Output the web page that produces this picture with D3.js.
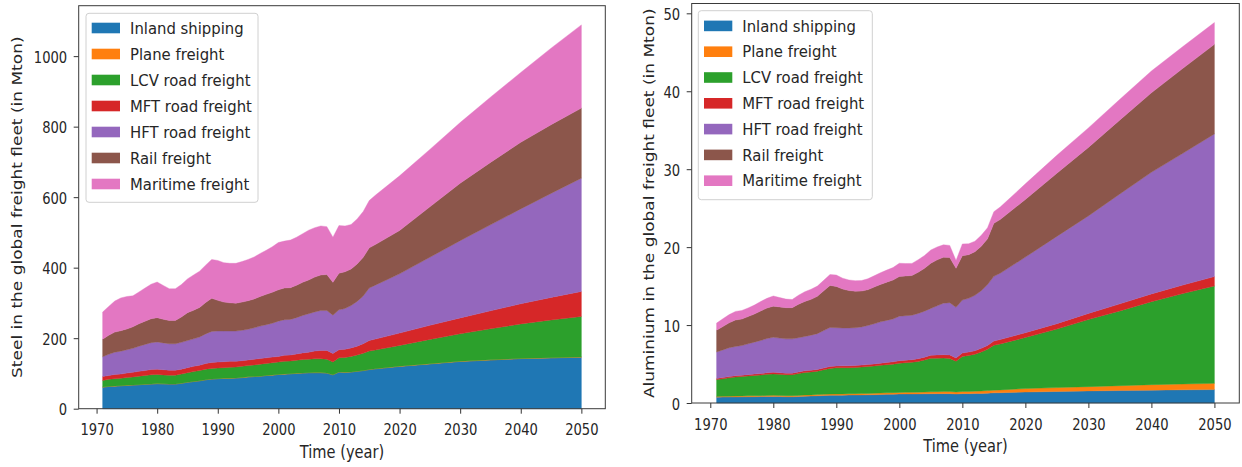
<!DOCTYPE html>
<html><head><meta charset="utf-8">
<script src="https://cdn.jsdelivr.net/npm/d3@7"></script>
<style>
body{margin:0;background:#fff}
svg{display:block}
text{font-family:"DejaVu Sans",sans-serif;fill:#262626}
</style>
</head><body>
<svg id="chart" width="1242" height="467"></svg>
<script>
// ---------- DATA ----------
const years = [1971,1972,1973,1974,1975,1976,1977,1978,1979,1980,
  1981,1982,1983,1984,1985,1986,1987,1988,1989,1990,
  1991,1992,1993,1994,1995,1996,1997,1998,1999,2000,
  2001,2002,2003,2004,2005,2006,2007,2008,2009,2010,
  2011,2012,2013,2014,2015,2016,
  2020,2025,2030,2035,2040,2045,2050];

const seriesNames = ["Inland shipping","Plane freight","LCV road freight","MFT road freight","HFT road freight","Rail freight","Maritime freight"];
const xTickLabels = [1970,1980,1990,2000,2010,2020,2030,2040,2050];
const steelTicks = [0,200,400,600,800,1000];
const aluTicks = [0,10,20,30,40,50];

// Steel (Mton)
const steelInland = [61,63,64,65,66,67,68,69,70,71,
  70.5,70,70,72,75,77,79,82,84,85,
  86,86,87,88,90,91,92,94,95,97,
  98,99,100,101,102,102,102,101,96,104,
  103,104,106,108,111,113,
  120,127,134,138,142,144,146];
const steelPlane = [0.2,0.2,0.2,0.2,0.2,0.2,0.2,0.2,0.2,0.2,
  0.2,0.2,0.2,0.2,0.2,0.2,0.2,0.2,0.3,0.3,
  0.3,0.3,0.3,0.3,0.3,0.3,0.3,0.3,0.3,0.3,
  0.3,0.3,0.3,0.3,0.3,0.4,0.4,0.4,0.4,0.4,
  0.4,0.4,0.4,0.4,0.4,0.4,
  0.45,0.5,0.5,0.55,0.55,0.6,0.6];
const steelLCV = [19,20,21,21,22,23,24,25,26,26,
  25,25,25,26,27,28,29,30,30,30,
  30,31,31,32,32,33,34,34,35,35,
  36,36,37,38,38,39,39,39,36,40,
  42,44,46,49,52,53,
  59,69,78,88,98,107,115];
const steelMFT = [11,11,12,12,13,13,14,14,15,15,
  15,14,14,14,14,15,15,16,17,17,
  17,17,16,16,16,16,16,16,16,16,
  17,17,18,19,20,22,24,25,24,23,
  23,24,25,27,30,31,
  35,40,45,51,57,64,71];
const steelHFT = [56,60,63,65,66,68,71,74,76,77,
  76,75,75,76,77,78,80,84,88,88,
  87,86,86,86,87,89,92,94,96,100,
  101,101,103,106,109,111,113,113,109,113,
  116,120,127,135,149,153,
  168,193,219,244,269,295,321];
const steelRail = [50,54,57,58,59,61,64,66,68,69,
  67,66,66,72,79,81,84,89,94,87,
  82,80,79,80,81,82,84,86,88,89,
  90,90,92,94,96,99,101,102,93,104,
  104,104,106,110,114,115,
  123,143,163,177,189,195,199];
const steelMaritime = [77,82,88,93,92,88,90,94,98,101,
  96,90,90,92,96,100,103,106,110,113,
  112,112,113,115,117,119,122,125,129,134,
  133,135,136,138,141,140,139,136,128,135,
  130,126,128,130,134,140,
  155,163,172,185,198,217,236];

// Aluminium (Mton)
const aluInland = [0.75,0.76,0.77,0.78,0.79,0.8,0.81,0.82,0.84,0.85,
  0.83,0.8,0.8,0.83,0.88,0.9,0.93,0.96,0.99,1.0,
  1.01,1.02,1.03,1.04,1.05,1.07,1.09,1.11,1.13,1.15,
  1.16,1.16,1.17,1.18,1.19,1.2,1.2,1.2,1.15,1.2,
  1.2,1.21,1.23,1.26,1.3,1.32,
  1.4,1.48,1.55,1.6,1.65,1.69,1.72];
const aluPlane = [0.1,0.1,0.11,0.11,0.11,0.12,0.12,0.12,0.13,0.13,
  0.13,0.13,0.13,0.14,0.14,0.14,0.15,0.15,0.15,0.16,
  0.16,0.16,0.17,0.17,0.18,0.18,0.19,0.2,0.2,0.21,
  0.21,0.21,0.22,0.23,0.24,0.25,0.26,0.27,0.26,0.28,
  0.29,0.3,0.31,0.33,0.35,0.36,
  0.45,0.5,0.55,0.62,0.7,0.75,0.8];
const aluLCV = [2.15,2.25,2.35,2.45,2.5,2.55,2.6,2.65,2.72,2.75,
  2.72,2.7,2.7,2.8,2.9,2.95,3.0,3.15,3.3,3.35,
  3.35,3.35,3.35,3.4,3.45,3.5,3.55,3.6,3.65,3.75,
  3.8,3.85,3.95,4.1,4.3,4.3,4.3,4.25,3.95,4.5,
  4.6,4.75,5.0,5.3,5.75,5.9,
  6.55,7.5,8.6,9.6,10.65,11.6,12.5];
const aluMFT = [0.15,0.15,0.16,0.16,0.17,0.17,0.18,0.18,0.19,0.2,
  0.2,0.2,0.2,0.2,0.21,0.21,0.22,0.23,0.25,0.25,
  0.25,0.25,0.25,0.25,0.26,0.27,0.28,0.29,0.3,0.32,
  0.33,0.34,0.35,0.37,0.4,0.42,0.44,0.45,0.42,0.43,
  0.44,0.45,0.47,0.5,0.55,0.56,
  0.62,0.7,0.8,0.9,1.0,1.1,1.2];
const aluHFT = [3.4,3.55,3.7,3.75,3.8,3.95,4.1,4.25,4.4,4.5,
  4.45,4.4,4.4,4.4,4.4,4.5,4.6,4.8,5.0,4.9,
  4.85,4.85,4.85,4.9,5.0,5.15,5.3,5.4,5.5,5.7,
  5.7,5.7,5.8,5.9,6.0,6.3,6.6,6.7,6.5,6.8,
  6.9,7.1,7.4,7.8,8.3,8.5,
  9.7,11.2,12.5,14.1,15.6,16.9,18.3];
const aluRail = [2.8,3.0,3.2,3.4,3.4,3.5,3.6,3.8,3.9,4.0,
  4.0,4.0,4.0,4.3,4.5,4.6,4.8,5.1,5.4,5.3,
  5.0,4.8,4.7,4.6,4.6,4.7,4.8,4.9,5.0,5.1,
  5.1,5.1,5.3,5.5,5.8,5.9,5.9,5.8,5.0,5.7,
  5.6,5.6,5.7,5.9,6.8,6.9,
  7.4,8.1,8.8,9.5,10.2,10.9,11.5];
const aluMaritime = [0.9,1.0,1.05,1.1,1.1,1.1,1.15,1.2,1.25,1.3,
  1.2,1.1,1.05,1.15,1.25,1.3,1.3,1.35,1.4,1.45,
  1.4,1.35,1.35,1.35,1.4,1.45,1.5,1.55,1.6,1.7,
  1.6,1.55,1.6,1.65,1.7,1.65,1.6,1.55,1.0,1.5,
  1.4,1.35,1.4,1.4,1.5,1.6,
  2.0,2.3,2.5,2.65,2.8,2.8,2.8];

const colors = ["#1f77b4","#ff7f0e","#2ca02c","#d62728","#9467bd","#8c564b","#e377c2"];

// ---------- DRAW ----------
const svg = d3.select("#chart");
const FS_TICK = 16, SX_TICK = 0.82;
const FS_LEG = 16.5, SX_LEG = 0.9;
const FS_LAB = 17, SX_LAB = 0.86;

function panel(cfg) {
  const series = cfg.series;
  const data = years.map((yr, i) => {
    const o = {year: yr};
    seriesNames.forEach((n, k) => o[n] = series[k][i]);
    return o;
  });
  const stacked = d3.stack().keys(seriesNames)(data);
  const total = d3.max(data, d => d3.sum(seriesNames, n => d[n]));
  const span = years[years.length-1] - years[0];
  const x = d3.scaleLinear()
    .domain([years[0] - 0.05*span, years[years.length-1] + 0.05*span])
    .range([cfg.x0, cfg.x1]);
  const y = d3.scaleLinear().domain([0, total*1.05]).range([cfg.yb, cfg.yt]);

  const g = svg.append("g");
  const area = d3.area().x(d => x(d.data.year)).y0(d => y(d[0])).y1(d => y(d[1]));
  g.selectAll("path.layer").data(stacked).join("path")
    .attr("class","layer")
    .attr("d", area)
    .attr("fill", (d,i) => colors[i])
    .attr("stroke", (d,i) => colors[i])
    .attr("stroke-width", 0.4);

  // axes
  const ax = g.append("g").attr("transform", `translate(0,${cfg.yb})`)
    .call(d3.axisBottom(x).tickValues(xTickLabels).tickFormat(d3.format("d")).tickSize(5).tickSizeOuter(0));
  ax.select(".domain").remove();
  ax.selectAll(".tick line").attr("stroke","#333");
  ax.selectAll(".tick text").attr("y", null).attr("dy", null)
    .attr("transform", `translate(0,26.5) scale(${SX_TICK},1)`)
    .style("font-size", FS_TICK+"px").attr("fill","#262626");

  const ay = g.append("g").attr("transform", `translate(${cfg.x0},0)`)
    .call(d3.axisLeft(y).tickValues(cfg.yTicks).tickFormat(d3.format("d")).tickSize(5).tickSizeOuter(0));
  ay.select(".domain").remove();
  ay.selectAll(".tick line").attr("stroke","#333");
  ay.selectAll(".tick text").attr("x", null).attr("dy", null)
    .attr("dominant-baseline","central")
    .attr("transform", `translate(-11.5,0) scale(${SX_TICK},1)`)
    .style("font-size", FS_TICK+"px").attr("fill","#262626");
  g.selectAll(".tick text").style("font-family","DejaVu Sans");

  // frame
  g.append("rect").attr("x", cfg.x0).attr("y", cfg.yt)
    .attr("width", cfg.x1-cfg.x0).attr("height", cfg.yb-cfg.yt)
    .attr("fill","none").attr("stroke","#3a3a3a").attr("stroke-width",1);

  // labels
  g.append("text").attr("text-anchor","middle")
    .attr("transform", `translate(${(cfg.x0+cfg.x1)/2},${cfg.yb+49}) scale(${SX_LAB},1)`)
    .style("font-size", FS_LAB+"px").text("Time (year)");
  g.append("text").attr("text-anchor","middle").attr("dominant-baseline","central")
    .attr("transform", `translate(${cfg.ylabX},${(cfg.yt+cfg.yb)/2}) scale(${SX_LAB},1) rotate(-90)`)
    .style("font-size", FS_LAB+"px").text(cfg.ylabel);

  // legend
  const L = cfg.legend;
  const lg = g.append("g");
  lg.append("rect").attr("x", L.x).attr("y", L.y).attr("width", L.w).attr("height", L.h)
    .attr("rx", 3).attr("fill","#fff").attr("fill-opacity",0.8)
    .attr("stroke","#d0d0d0").attr("stroke-width",1);
  seriesNames.forEach((n, i) => {
    const cy = L.first + i*L.step;
    lg.append("rect").attr("x", L.x+5.7).attr("y", cy-5.3).attr("width", 28.3).attr("height", 10.6)
      .attr("fill", colors[i]);
    lg.append("text").attr("dominant-baseline","central")
      .attr("transform", `translate(${L.x+44},${cy}) scale(${SX_LEG},1)`)
      .style("font-size", FS_LEG+"px").text(n);
  });
}

panel({
  series: [steelInland, steelPlane, steelLCV, steelMFT, steelHFT, steelRail, steelMaritime],
  x0: 78.7, x1: 605.3, yt: 5.7, yb: 408.7,
  yTicks: steelTicks, ylabX: 17,
  ylabel: "Steel in the global freight fleet (in Mton)",
  legend: {x: 86, y: 13.3, w: 172, h: 189, first: 28, step: 26}
});
panel({
  series: [aluInland, aluPlane, aluLCV, aluMFT, aluHFT, aluRail, aluMaritime],
  x0: 691.7, x1: 1239.3, yt: 3.5, yb: 403,
  yTicks: aluTicks, ylabX: 649,
  ylabel: "Aluminium in the global freight fleet (in Mton)",
  legend: {x: 698.3, y: 10.7, w: 174, h: 189, first: 25.9, step: 25.8}
});
</script>
</body></html>
